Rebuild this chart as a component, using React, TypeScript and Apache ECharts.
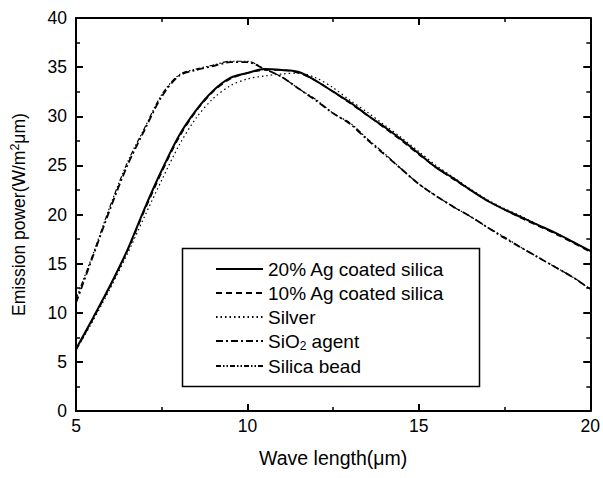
import React, { useEffect, useRef } from "react";
import * as echarts from "echarts";

const wavelengths = [5, 5.5, 6, 6.5, 7, 7.5, 8, 8.5, 9, 9.5, 10, 10.5, 11, 11.5, 12, 12.5, 13, 13.5, 14, 14.5, 15, 15.5, 16, 16.5, 17, 17.5, 18, 18.5, 19, 19.5, 20];

const ag20 = [6.3, 9.5, 12.8, 16.4, 20.6, 24.5, 28.0, 30.6, 32.6, 33.9, 34.4, 34.8, 34.7, 34.5, 33.6, 32.5, 31.4, 30.1, 28.9, 27.6, 26.2, 24.8, 23.7, 22.5, 21.4, 20.5, 19.7, 18.9, 18.1, 17.2, 16.3];
const ag10 = [6.2, 9.4, 12.7, 16.3, 20.4, 24.3, 27.8, 30.5, 32.5, 33.8, 34.4, 34.7, 34.7, 34.4, 33.6, 32.5, 31.3, 30.1, 28.8, 27.5, 26.1, 24.8, 23.6, 22.5, 21.4, 20.5, 19.6, 18.8, 18.0, 17.1, 16.2];
const silver = [6.2, 9.2, 12.5, 16.0, 19.8, 23.5, 27.0, 29.8, 31.8, 33.1, 33.8, 34.1, 34.3, 34.4, 33.9, 32.9, 31.6, 30.4, 29.1, 27.8, 26.4, 25.0, 23.8, 22.6, 21.5, 20.6, 19.8, 18.9, 18.1, 17.2, 16.3];
const sio2 = [11.0, 15.8, 20.6, 25.0, 28.6, 32.0, 34.1, 34.7, 35.1, 35.5, 35.5, 34.8, 34.0, 32.8, 31.6, 30.3, 29.2, 27.6, 26.1, 24.6, 23.1, 21.9, 20.8, 19.8, 18.7, 17.6, 16.6, 15.6, 14.6, 13.6, 12.4];
const silicaBead = [11.4, 16.0, 20.9, 25.3, 28.8, 32.2, 34.2, 34.8, 35.2, 35.6, 35.6, 34.8, 34.0, 32.8, 31.7, 30.3, 29.3, 27.7, 26.2, 24.6, 23.1, 21.9, 20.8, 19.8, 18.7, 17.7, 16.6, 15.6, 14.6, 13.6, 12.4];

const seriesNames = ["20% Ag coated silica", "10% Ag coated silica", "Silver", "SiO2 agent", "Silica bead"];
const xTicks = { min: 5, max: 20, interval: 5 };
const yTicks = { min: 0, max: 40, interval: 5 };

const FONT = "'Liberation Sans', Arial, sans-serif";

function pairs(ys: number[]) {
  return wavelengths.map((x, i) => [x, ys[i]]);
}

export default function App() {
  const ref = useRef<HTMLDivElement>(null);
  useEffect(() => {
    if (!ref.current) return;
    const chart = echarts.init(ref.current, undefined, { renderer: "svg" });
    const tickCommon = {
      axisLine: { show: true, onZero: false, lineStyle: { color: "#000", width: 2 } },
      axisTick: { show: true, inside: true, length: 7, lineStyle: { color: "#000", width: 2 } },
      minorTick: { show: true, splitNumber: 2, length: 4, lineStyle: { color: "#000", width: 1.5 } },
      splitLine: { show: false },
    };
    const styles = [
      { type: "solid", width: 2 },
      { type: [6, 4], width: 1.5 },
      { type: [1.5, 3], width: 1.2 },
      { type: [7, 3, 2, 3], width: 1.8 },
      { type: [5, 2, 1.5, 2, 1.5, 2], width: 1.2 },
    ];
    const dataSets = [ag20, ag10, silver, sio2, silicaBead];
    chart.setOption({
      animation: false,
      backgroundColor: "#fff",
      grid: { left: 76, right: 11, top: 18, bottom: 67 },
      textStyle: { fontFamily: FONT },
      legend: {
        orient: "vertical",
        left: 215,
        top: 259,
        itemWidth: 47,
        itemHeight: 14,
        itemGap: 4,
        padding: 0,
        data: seriesNames,
        itemStyle: { opacity: 0 },
        textStyle: {
          fontFamily: FONT,
          fontSize: 19,
          color: "#000",
          lineHeight: 20,
          rich: {
            sub: { fontSize: 12, fontFamily: FONT, color: "#000", padding: [10, 0, 0, 0] },
          },
        },
        formatter: (name: string) => (name === "SiO2 agent" ? "SiO{sub|2} agent" : name),
      },
      graphic: [
        {
          type: "rect",
          shape: { x: 182.5, y: 248.5, width: 297, height: 138 },
          style: { fill: "none", stroke: "#000", lineWidth: 1.5 },
          z: 10,
        },
      ],
      xAxis: [
        {
          type: "value",
          position: "bottom",
          ...xTicks,
          ...tickCommon,
          name: "Wave length(μm)",
          nameLocation: "middle",
          nameGap: 37,
          nameTextStyle: { fontFamily: FONT, fontSize: 19.5, color: "#000" },
          axisLabel: { fontFamily: FONT, fontSize: 17.5, color: "#000", margin: 6 },
        },
        {
          type: "value",
          position: "top",
          ...xTicks,
          ...tickCommon,
          axisLabel: { show: false },
        },
      ],
      yAxis: [
        {
          type: "value",
          position: "left",
          ...yTicks,
          ...tickCommon,
          name: "Emission power(W/m{sup|2}μm)",
          nameLocation: "middle",
          nameGap: 46,
          nameTextStyle: {
            fontFamily: FONT,
            fontSize: 17.5,
            color: "#000",
            rich: {
              sup: { fontSize: 12.5, fontFamily: FONT, color: "#000", padding: [0, 0, 9, 0] },
            },
          },
          axisLabel: { fontFamily: FONT, fontSize: 17.5, color: "#000", margin: 9 },
        },
        {
          type: "value",
          position: "right",
          ...yTicks,
          ...tickCommon,
          axisLabel: { show: false },
        },
      ],
      series: seriesNames.map((name, i) => ({
        name,
        type: "line",
        data: pairs(dataSets[i]),
        showSymbol: false,
        symbol: "none",
        smooth: 0.3,
        lineStyle: { color: "#000", ...styles[i] },
        itemStyle: { color: "#000" },
        z: 5 - i,
      })),
    });
    return () => chart.dispose();
  }, []);
  return (
    <div
      ref={ref}
      style={{ position: "fixed", left: 0, top: 0, width: 603, height: 478, background: "#fff" }}
    />
  );
}
